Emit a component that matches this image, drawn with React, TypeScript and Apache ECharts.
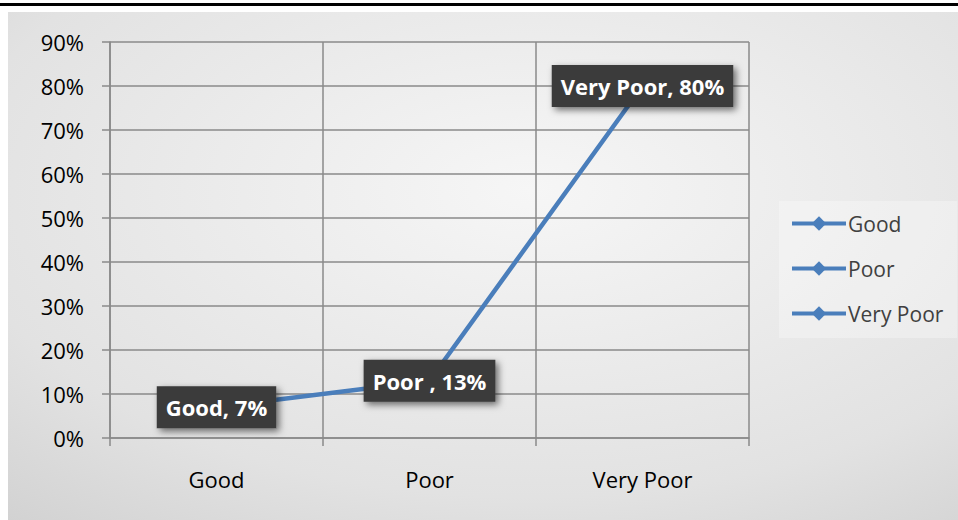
import React, { useEffect, useRef } from 'react';
import * as echarts from 'echarts';

const categories = ['Good', 'Poor', 'Very Poor'];
const values = [7, 13, 80];
const labelNames = ['Good', 'Poor ', 'Very Poor'];
const legendNames = ['Good', 'Poor', 'Very Poor'];
const yMin = 0;
const yMax = 90;
const yStep = 10;

const LINE_COLOR = '#4a7ebb';
const GRID_COLOR = '#8a8a8a';
const FONT = '"Open Sans", "Noto Sans", sans-serif';

export default function App() {
  const ref = useRef<HTMLDivElement>(null);
  useEffect(() => {
    document.body.style.margin = '0';
    const chart = echarts.init(ref.current!, null, { renderer: 'svg' });
    const baseSeries = {
      type: 'line' as const,
      symbol: 'diamond',
      symbolSize: 13,
      showSymbol: true,
      lineStyle: { color: LINE_COLOR, width: 4.5 },
      itemStyle: { color: LINE_COLOR },
    };
    const series: any[] = legendNames.map((name, i) => ({
      ...baseSeries,
      name,
      data: i === 0 ? values : [],
      label: {
        show: i === 0,
        position: 'inside',
        formatter: (p: any) => `${labelNames[p.dataIndex]}, ${p.value}%`,
        color: '#ffffff',
        fontFamily: FONT,
        fontWeight: 'bold',
        fontSize: 22,
        lineHeight: 24,
        backgroundColor: '#3b3b3b',
        padding: [9, 9, 9, 9],
        shadowColor: 'rgba(0,0,0,0.55)',
        shadowBlur: 7,
        shadowOffsetX: 3,
        shadowOffsetY: 3,
      },
    }));
    chart.setOption({
      animation: false,
      backgroundColor: '#ffffff',
      textStyle: { fontFamily: FONT },
      graphic: [
        {
          type: 'rect',
          z: -10,
          silent: true,
          shape: { x: 8, y: 12, width: 950, height: 508 },
          style: {
            fill: new echarts.graphic.RadialGradient(0.55, 0.35, 1.1, [
              { offset: 0, color: '#f6f6f6' },
              { offset: 0.55, color: '#e2e2e2' },
              { offset: 1, color: '#c2c2c2' },
            ]),
          },
        },
        {
          type: 'rect',
          z: -10,
          silent: true,
          shape: { x: 0, y: 3, width: 958, height: 3 },
          style: { fill: '#000000' },
        },
      ],
      grid: { left: 110, right: 209, top: 42, bottom: 82, containLabel: false },
      legend: {
        data: legendNames,
        orient: 'vertical',
        left: 779,
        top: 201,
        width: 177,
        padding: [12, 14, 14, 11],
        itemGap: 24,
        itemWidth: 54,
        itemHeight: 18,
        backgroundColor: 'rgba(255,255,255,0.3)',
        selectedMode: false,
        lineStyle: { width: 4, color: LINE_COLOR },
        itemStyle: { color: LINE_COLOR },
        textStyle: { color: '#404040', fontSize: 21, fontFamily: FONT, padding: [0, 0, 0, -3] },
      },
      xAxis: {
        type: 'category',
        data: categories,
        boundaryGap: true,
        axisLine: { lineStyle: { color: GRID_COLOR, width: 1.5 } },
        axisTick: { show: true, length: 8, lineStyle: { color: GRID_COLOR, width: 1.5 } },
        splitLine: { show: true, lineStyle: { color: GRID_COLOR, width: 1.5 } },
        axisLabel: { color: '#000000', fontSize: 22, fontFamily: FONT, margin: 30 },
      },
      yAxis: {
        type: 'value',
        min: yMin,
        max: yMax,
        interval: yStep,
        axisLine: { show: true, lineStyle: { color: GRID_COLOR, width: 1.5 } },
        axisTick: { show: true, length: 8, lineStyle: { color: GRID_COLOR, width: 1.5 } },
        splitLine: { show: true, lineStyle: { color: GRID_COLOR, width: 1.5 } },
        axisLabel: { color: '#000000', fontSize: 22, fontFamily: FONT, margin: 26, formatter: '{value}%' },
      },
      series,
    });
    return () => chart.dispose();
  }, []);
  return <div ref={ref} style={{ width: 958, height: 520 }} />;
}
